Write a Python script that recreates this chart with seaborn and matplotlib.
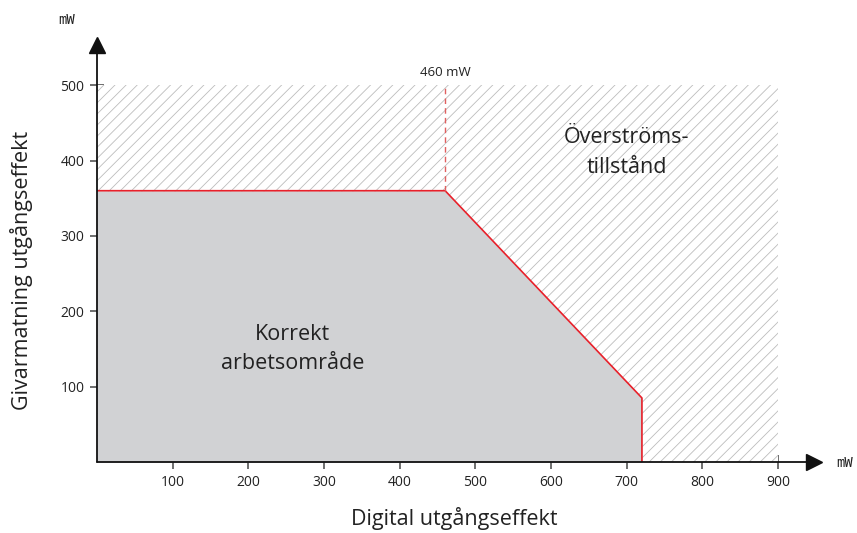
import matplotlib
matplotlib.use("Agg")
import matplotlib.pyplot as plt
import seaborn as sns
import pandas as pd

# Data
boundary_x = [0, 460, 720, 720]
boundary_y = [360, 360, 85, 0]
limit_x = 460
limit_label = "460 mW"
region_xmax = 900
region_ymax = 500
x_ticks = [100, 200, 300, 400, 500, 600, 700, 800, 900]
y_ticks = [100, 200, 300, 400, 500]
x_label = "Digital utgångseffekt"
y_label = "Givarmatning utgångseffekt"
unit = "mW"
ok_text = "Korrekt\narbetsområde"
over_text = "Överströms-\ntillstånd"

sns.set_theme(style="white")
plt.rcParams['font.family'] = ['Open Sans', 'DejaVu Sans']
plt.rcParams['hatch.color'] = '#bcbcbc'
plt.rcParams['hatch.linewidth'] = 0.6

fig = plt.figure(figsize=(8.57, 5.33), dpi=100)
ax = fig.add_axes([97/857, 71/533, 719/857, 422/533])
ax.set_xlim(0, 950)
ax.set_ylim(0, 560)

# hatched overcurrent background
ax.fill_between([0, region_xmax], 0, region_ymax, facecolor='white',
                edgecolor='#bcbcbc', hatch='///', linewidth=0, zorder=1)
# gray correct-operation region
ax.fill_between(boundary_x, boundary_y, 0, facecolor='#d1d2d4', linewidth=0, zorder=2)

df = pd.DataFrame({"x": boundary_x, "y": boundary_y})
sns.lineplot(data=df, x="x", y="y", sort=False, estimator=None, color='#e8202a',
             lw=1.2, ax=ax, zorder=4)
ax.plot([limit_x, limit_x], [boundary_y[1], region_ymax], color='#e06060',
        lw=1.0, ls=(0, (4, 3)), zorder=4)
ax.text(limit_x, region_ymax + 8, limit_label, ha='center', va='bottom',
        fontsize=9.5, color='#222222')

ax.text(258, 150, ok_text, ha='center', va='center', fontsize=15.5,
        color='#222222', linespacing=1.55, zorder=5)
ax.text(700, 411, over_text, ha='center', va='center', fontsize=15.5,
        color='#222222', linespacing=1.55, zorder=5)

# axes
for s in ax.spines.values():
    s.set_visible(False)
ax.plot([0, 940], [0, 0], color='#111111', lw=1.3, zorder=6, clip_on=False)
ax.plot([0, 0], [0, 550], color='#111111', lw=1.3, zorder=6, clip_on=False)
ax.plot(947, 0, marker='>', color='#111111', ms=11, zorder=6, clip_on=False)
ax.plot(0, 554, marker='^', color='#111111', ms=11, zorder=6, clip_on=False)

ax.set_xticks(x_ticks)
ax.set_yticks(y_ticks)
ax.tick_params(axis='both', direction='inout', length=10, width=1.2,
               color='#555555', labelsize=10, labelcolor='#222222',
               bottom=True, left=True, pad=4)
ax.set_xlabel("")
ax.set_ylabel("")
ax.grid(False)

fig.text(454/857, 1 - 519/533, x_label, ha='center', va='center', fontsize=15.5,
         color='#222222')
fig.text(22/857, 1 - 270/533, y_label, ha='center', va='center', fontsize=15.5,
         color='#222222', rotation=90)

fig.text(67/857, 1 - 20/533, unit, ha='center', va='center', fontsize=10,
         family='DejaVu Sans Mono', color='#222222')
fig.text(845/857, 1 - 463/533, unit, ha='center', va='center', fontsize=10,
         family='DejaVu Sans Mono', color='#222222')

fig.savefig("out.png", dpi=100)
